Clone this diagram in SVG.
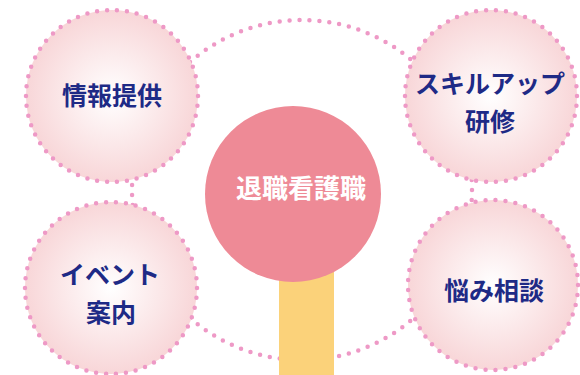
<svg xmlns="http://www.w3.org/2000/svg" width="580" height="375" viewBox="0 0 580 375">
<defs>
<radialGradient id="g" cx="50%" cy="50%" r="50%">
<stop offset="0" stop-color="#FFFFFF"/>
<stop offset="1" stop-color="#F8D6D8"/>
</radialGradient>
<style>
.ring{fill:none;stroke:#EE99C6;stroke-width:4.5;stroke-linecap:round;stroke-dasharray:0 10}
.node{fill:url(#g);stroke:#EE99C6;stroke-width:4.5;stroke-linecap:round;stroke-dasharray:0 10}
.lbl{font-family:"Noto Sans CJK JP","Noto Sans",sans-serif;font-weight:bold;font-size:25px;fill:#1E2A86;text-anchor:middle}
.ctr{font-family:"Noto Sans CJK JP","Noto Sans",sans-serif;font-weight:bold;font-size:26px;fill:#FFFFFF;text-anchor:middle}
</style>
</defs>
<rect width="580" height="375" fill="#FFFFFF"/>
<g id="connectors">
<circle class="ring" cx="302" cy="190" r="170" pathLength="1070"/>
</g>
<g id="stem">
<rect x="279" y="260" width="55" height="115" fill="#FBD27A"/>
</g>
<g id="center">
<circle cx="293" cy="194" r="88" fill="#EE8A96"/>
<text class="ctr" x="301" y="198">退職看護職</text>
</g>
<g id="n1">
<circle class="node" cx="112" cy="96" r="86" pathLength="540"/>
<text class="lbl" x="112" y="105">情報提供</text>
</g>
<g id="n2">
<circle class="node" cx="491" cy="96" r="86" pathLength="540"/>
<text class="lbl" x="490" y="93">スキルアップ</text>
<text class="lbl" x="490" y="131">研修</text>
</g>
<g id="n3">
<circle class="node" cx="111" cy="288" r="86" pathLength="540"/>
<text class="lbl" x="110" y="284">イベント</text>
<text class="lbl" x="111" y="322">案内</text>
</g>
<g id="n4">
<circle class="node" cx="493" cy="285" r="85" pathLength="530"/>
<text class="lbl" x="494" y="300">悩み相談</text>
</g>
</svg>
